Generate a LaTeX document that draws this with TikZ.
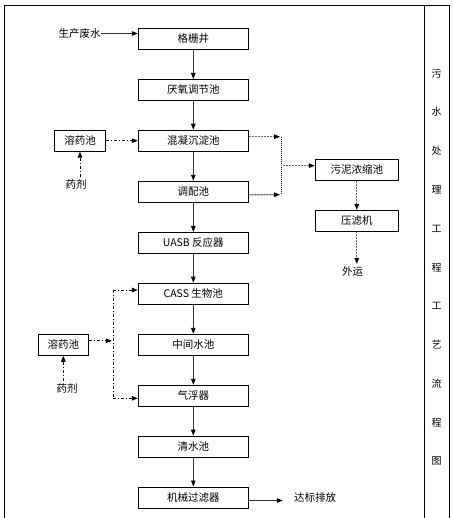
\documentclass[tikz,border=0pt]{standalone}
\usepackage{fontspec}
\newfontfamily\cjk{Noto Sans CJK SC}
\usetikzlibrary{arrows.meta}
\begin{document}
\begin{tikzpicture}[x=1pt,y=-1pt,
  txt/.style={inner sep=0pt,font=\cjk\fontsize{10.5}{12}\selectfont},
  box/.style={txt,draw,line width=1pt,minimum width=110pt,minimum height=21pt},
  flow/.style={line width=0.9pt,draw=black!80,-{Triangle[length=6pt,width=4.5pt,color=black]}},
  chem/.style={line width=0.9pt,dash pattern=on 3pt off 2pt on 1pt off 2pt,-{Triangle[length=6pt,width=4.5pt]}},
  sludge/.style={line width=1.2pt,draw=black!60,dash pattern=on 1pt off 0.5pt,-{Triangle[length=6pt,width=4.5pt,color=black]}},
  sludgev/.style={line width=0.9pt,dash pattern=on 1pt off 1pt},
  frame/.style={line width=1pt}
]
\useasboundingbox (0,0) rectangle (452,518);
% frame
\draw[frame] (4,518) -- (4,6) -- (449,6) -- (449,518);
\draw[frame] (424.3,6) -- (424.3,518);
% main column
\node[box] (b1) at (193.3,38.8) {格栅井};
\node[box] (b2) at (193.3,90) {厌氧调节池};
\node[box] (b3) at (193.3,140.7) {混凝沉淀池};
\node[box] (b4) at (193.3,191.8) {调配池};
\node[box] (b5) at (193.3,243) {UASB 反应器};
\node[box] (b6) at (193.3,293.7) {CASS 生物池};
\node[box] (b7) at (193.3,344.8) {中间水池};
\node[box] (b8) at (193.3,395.8) {气浮器};
\node[box] (b9) at (193.3,446.7) {清水池};
\node[box] (b10) at (193.3,497.5) {机械过滤器};
% side boxes
\node[box,minimum width=51.4pt] (ry1) at (80,140.7) {溶药池};
\node[txt] (yj1) at (76,184.5) {药剂};
\node[box,minimum width=50pt] (ry2) at (63.3,344.8) {溶药池};
\node[txt] (yj2) at (67,388.5) {药剂};
\node[box,minimum width=83pt] (wn) at (356.8,169.8) {污泥浓缩池};
\node[box,minimum width=83pt] (yl) at (356.8,221) {压滤机};
\node[txt] (wy) at (352.5,272) {外运};
\node[txt] (src) at (79.5,33.5) {生产废水};
\node[txt] (out) at (315,497.5) {达标排放};
% title column
\foreach \c [count=\i] in {污,水,处,理,工,程,工,艺,流,程,图}{
  \node[txt,font=\cjk\fontsize{10}{12}\selectfont] (t\i) at (436.7,{73.3+38.8*(\i-1)}) {\c};
}
% main flow
\draw[flow] (src.east) -- (src.east -| b1.west);
\foreach \a/\b in {b1/b2,b2/b3,b3/b4,b4/b5,b5/b6,b6/b7,b7/b8,b8/b9,b9/b10}{
  \draw[flow] (\a.south) -- (\b.north);
}
\draw[flow,shorten >=11pt] ([yshift=-3pt]b10.east) -- ([yshift=-3pt]b10.east -| out.west);
% chemicals top
\draw[chem] ([yshift=2pt]yj1.north -| ry1.south) -- (ry1.south);
\draw[chem] (ry1.east) -- (b3.west);
% chemicals bottom
\coordinate (j4) at (113.3,344.8);
\coordinate (j5) at (113.3,290);
\coordinate (j6) at (113.3,398.3);
\draw[chem] ([yshift=2pt]yj2.north -| ry2.south) -- (ry2.south);
\draw[chem,shorten >=1.5pt] ([yshift=4pt]ry2.east) -- ([yshift=4pt]ry2.east -| j4);
\draw[chem,-] (j5) -- (j6);
\draw[chem] (j5) -- (j5 -| b6.west);
\draw[chem] (j6) -- (j6 -| b8.west);
% sludge
\coordinate (j1) at (281.3,136.7);
\coordinate (j2) at (281.3,194.7);
\coordinate (j3) at (281.3,165.7);
\draw[sludge,shorten >=1.3pt] ([yshift=4pt]b3.east) -- (j1);
\draw[sludge,shorten >=1.3pt] ([yshift=-3pt]b4.east) -- (j2);
\draw[sludgev] (j1) -- (j2);
\draw[sludge] (j3) -- (j3 -| wn.west);
\draw[sludge] (wn.south) -- (yl.north);
\draw[sludge,shorten >=3pt] (yl.south) -- (yl.south |- wy.north);
\end{tikzpicture}
\end{document}
